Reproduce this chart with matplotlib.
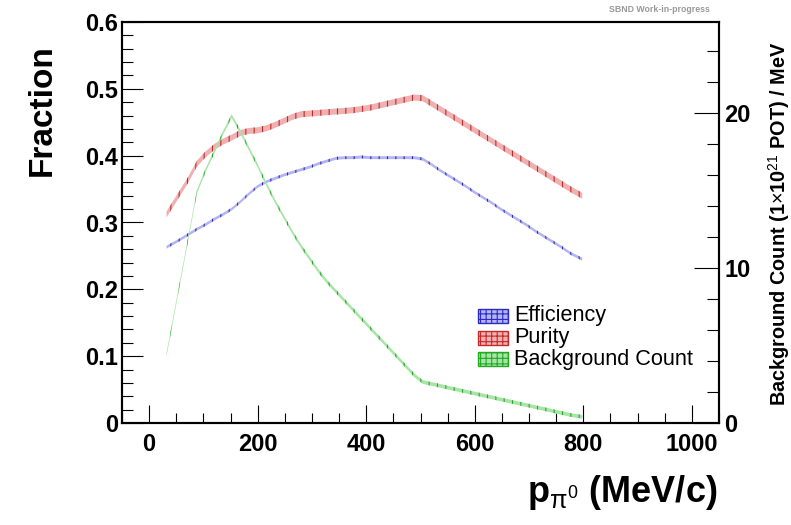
import matplotlib
matplotlib.use("Agg")
import matplotlib.pyplot as plt
import numpy as np
from matplotlib.patches import Rectangle
from matplotlib.ticker import MultipleLocator, FuncFormatter

plt.rcParams['font.family'] = ['Liberation Sans', 'DejaVu Sans']
plt.rcParams['mathtext.fontset'] = 'custom'
plt.rcParams['mathtext.rm'] = 'Liberation Sans'
plt.rcParams['mathtext.it'] = 'Liberation Sans:italic'
plt.rcParams['mathtext.bf'] = 'Liberation Sans:bold'
plt.rcParams['hatch.linewidth'] = 0.8

# pi0 momentum sample points (MeV/c)
p_pi0 = [
    32, 56, 72, 88, 104, 120, 136, 152, 168, 184,
    200, 216, 232, 248, 264, 280, 296, 312, 328, 344,
    360, 376, 392, 408, 424, 440, 456, 472, 488, 504,
    520, 536, 552, 568, 584, 600, 616, 632, 648, 664,
    680, 696, 712, 728, 744, 760, 776, 798,
]

efficiency = [
    0.263, 0.274, 0.282, 0.290, 0.297, 0.305, 0.312, 0.320, 0.331, 0.343,
    0.354, 0.361, 0.366, 0.371, 0.375, 0.379, 0.383, 0.388, 0.392, 0.396,
    0.397, 0.397, 0.398, 0.397, 0.397, 0.397, 0.397, 0.397, 0.397, 0.395,
    0.387, 0.378, 0.370, 0.362, 0.354, 0.345, 0.337, 0.329, 0.320, 0.312,
    0.304, 0.296, 0.287, 0.279, 0.271, 0.263, 0.254, 0.245,
]
purity = [
    0.312, 0.343, 0.364, 0.388, 0.402, 0.413, 0.421, 0.427, 0.434, 0.437,
    0.438, 0.441, 0.446, 0.452, 0.458, 0.462, 0.463, 0.464, 0.465, 0.466,
    0.467, 0.468, 0.470, 0.472, 0.475, 0.478, 0.481, 0.484, 0.487, 0.486,
    0.478, 0.470, 0.462, 0.454, 0.446, 0.438, 0.430, 0.422, 0.414, 0.406,
    0.398, 0.390, 0.382, 0.374, 0.366, 0.358, 0.350, 0.340,
]
background = [
    4.4, 8.9, 11.9, 14.9, 16.3, 17.5, 18.7, 19.8, 18.8, 17.7,
    16.6, 15.4, 14.3, 13.3, 12.3, 11.4, 10.6, 9.8, 9.1, 8.5,
    7.9, 7.3, 6.7, 6.1, 5.5, 4.9, 4.3, 3.7, 3.1, 2.65,
    2.52, 2.40, 2.27, 2.15, 2.02, 1.90, 1.77, 1.65, 1.52, 1.40,
    1.27, 1.15, 1.02, 0.90, 0.77, 0.65, 0.52, 0.40,
]
# half-widths of the uncertainty bands
eff_err = 0.0022
pur_err = 0.0045
bkg_err = 0.12

series_labels = ["Efficiency", "Purity", "Background Count"]
dark_colors = ["#2a2ac8", "#c42a2a", "#22aa22"]
light_colors = ["#b4b4ee", "#eeb0b0", "#a8e4a8"]

W, H = 791, 525
fig = plt.figure(figsize=(W / 100, H / 100), dpi=100)
ax = fig.add_axes([122 / W, 1 - 423 / H, (719 - 122) / W, (423 - 22) / H])
ax2 = ax.twinx()

ax.set_xlim(-50, 1050)
ax.set_ylim(0, 0.6)
ax2.set_ylim(0, 25.87)


def band(axis, vals, err, dark, light):
    vals = np.asarray(vals)
    axis.fill_between(p_pi0, vals - err, vals + err, facecolor=light,
                      edgecolor=dark, hatch='||', linewidth=0, zorder=3)


band(ax, efficiency, eff_err, dark_colors[0], light_colors[0])
band(ax, purity, pur_err, dark_colors[1], light_colors[1])
band(ax2, background, bkg_err, dark_colors[2], light_colors[2])

fmt = FuncFormatter(lambda v, p: f"{v:g}")

ax.xaxis.set_major_locator(MultipleLocator(200))
ax.xaxis.set_minor_locator(MultipleLocator(50))
ax.yaxis.set_major_locator(MultipleLocator(0.1))
ax.yaxis.set_minor_locator(MultipleLocator(0.02))
ax.xaxis.set_major_formatter(fmt)
ax.yaxis.set_major_formatter(fmt)
ax.tick_params(which='both', direction='in', top=False, right=False, width=0.8)
ax.tick_params(axis='x', which='major', length=13, pad=7, labelsize=17)
ax.tick_params(axis='x', which='minor', length=7)
ax.tick_params(axis='y', which='major', length=15, pad=3, labelsize=17)
ax.tick_params(axis='y', which='minor', length=8)
for lbl in ax.get_xticklabels() + ax.get_yticklabels():
    lbl.set_fontweight('bold')

ax2.yaxis.set_major_locator(MultipleLocator(10))
ax2.yaxis.set_minor_locator(MultipleLocator(2))
ax2.yaxis.set_major_formatter(fmt)
ax2.tick_params(which='both', direction='in', width=0.8)
ax2.tick_params(which='major', length=18, pad=4, labelsize=17)
ax2.tick_params(which='minor', length=9)
for lbl in ax2.get_yticklabels():
    lbl.set_fontweight('bold')

for a in (ax, ax2):
    for s in a.spines.values():
        s.set_linewidth(1.5)

# axis titles
fig.text(42 / W, 1 - 110 / H, "Fraction", rotation=90, ha='center',
         va='center', fontsize=24, fontweight='bold')
fig.text(717 / W, 1 - 502 / H, r"p$_{\mathrm{\pi}^{0}}$ (MeV/c)", ha='right',
         va='baseline', fontsize=26, fontweight='bold')
fig.text(779 / W, 1 - 224 / H,
         r"Background Count (1$\times$10$^{21}$ POT) / MeV",
         rotation=90, ha='center', va='center', fontsize=14.3,
         fontweight='bold')
fig.text(710 / W, 1 - 10 / H, "SBND Work-in-progress", ha='right',
         va='center', fontsize=6.3, fontweight='bold', color='#999999')

# legend
for i, (lab, dc, lc) in enumerate(zip(series_labels, dark_colors, light_colors)):
    yc = 316 + 21.5 * i
    fig.add_artist(Rectangle((478 / W, 1 - (yc + 7) / H), 30 / W, 14 / H,
                             transform=fig.transFigure, facecolor=lc,
                             edgecolor=dc, hatch='+++', linewidth=1.0))
    fig.text(514 / W, 1 - yc / H, lab, ha='left', va='center',
             fontsize=15.6)

fig.savefig("out.png", dpi=100)
